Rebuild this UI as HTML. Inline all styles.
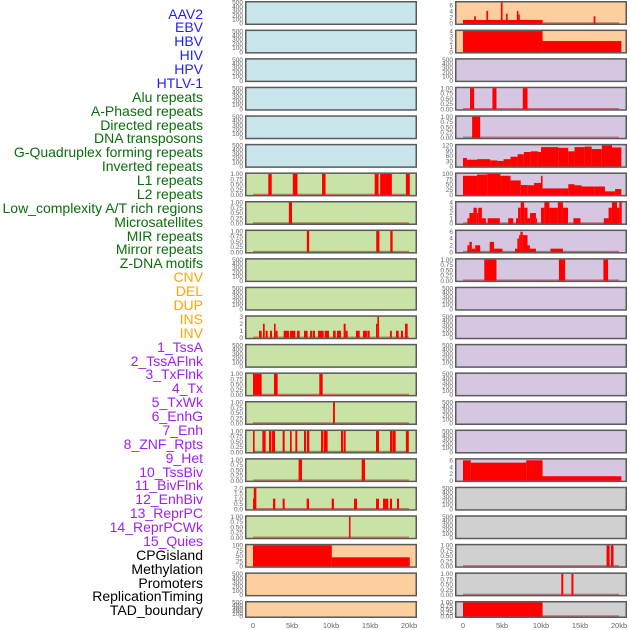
<!DOCTYPE html>
<html><head><meta charset="utf-8">
<style>
html,body{margin:0;padding:0;background:#fff;}
#wrap{position:relative;width:630px;height:630px;overflow:hidden;font-family:"Liberation Sans",sans-serif;}
.lab{position:absolute;right:427px;font-size:14px;line-height:14px;white-space:nowrap;}
svg{position:absolute;left:0;top:0;}
</style></head>
<body>
<div id="wrap">
<div id="labels"></div>
<svg id="chart" width="630" height="630"></svg>
</div>
<script>
// ---- labels ----
const labelNames = ["AAV2","EBV","HBV","HIV","HPV","HTLV-1","Alu repeats","A-Phased repeats","Directed repeats","DNA transposons","G-Quadruplex forming repeats","Inverted repeats","L1 repeats","L2 repeats","Low_complexity A/T rich regions","Microsatellites","MIR repeats","Mirror repeats","Z-DNA motifs","CNV","DEL","DUP","INS","INV","1_TssA","2_TssAFlnk","3_TxFlnk","4_Tx","5_TxWk","6_EnhG","7_Enh","8_ZNF_Rpts","9_Het","10_TssBiv","11_BivFlnk","12_EnhBiv","13_ReprPC","14_ReprPCWk","15_Quies","CPGisland","Methylation","Promoters","ReplicationTiming","TAD_boundary"];
const labelGroupSizes = [6,13,5,15,5];
const labelGroupColors = ["#1f1fff","#0b6e0b","#ffa500","#a020f0","#000000"];

// ---- tick label sets ----
const T500 = ["0","100","200","300","400","500"];
const T1 = ["0.00","0.25","0.50","0.75","1.00"];
const T3 = ["0","1","2","3"];
const T2 = ["0.0","0.5","1.0","1.5","2.0"];
const T100 = ["0","25","50","75","100"];
const T120 = ["0","30","60","90","120"];
const T4 = ["0","1","2","3","4"];
const T6 = ["0","2","4","6"];

// ---- data: [startKb, endKb, value] ----
const L7 = [[1.96,2.4,1],[5.1,5.7,1],[8.85,9.3,1],[15.6,16.1,1],[16.3,17.8,1],[19.6,20.1,1]];
const L8 = [[4.6,5.0,1]];
const L9 = [[6.9,7.2,1],[15.8,16.2,1],[17.6,17.9,1]];
const L12 = [[0.77,1.11,1],[1.28,1.5,2],[1.62,1.88,1],[2.18,2.44,1],[2.69,2.9,2],[2.9,3.16,1],[3.93,4.62,1],[4.74,5.43,1],[5.64,5.98,1],[6.54,7.0,1],[7.31,7.56,1],[7.65,7.95,1],[8.33,9.06,1],[9.19,9.74,1],[10.26,10.6,1],[10.77,11.28,1],[11.62,11.88,2],[11.88,12.14,1],[13.2,13.68,1],[14.1,14.6,1],[14.66,14.96,1],[15.77,15.94,2],[15.94,16.15,3],[17.56,17.8,1],[18.33,18.68,1],[18.97,19.23,1],[19.49,19.83,2]];
const L14 = [[0,1.11,1],[2.69,3.16,1],[8.5,8.93,1]];
const L15 = [[10.26,10.5,1]];
const L16 = [[0,0.21,1],[1.2,1.62,1],[2.05,2.35,1],[2.44,2.82,1],[3.8,4.06,1],[4.74,4.96,1],[5.43,5.68,1],[6.54,6.8,1],[6.92,7.22,1],[8.72,9.02,1],[9.1,9.57,1],[11.28,11.54,1],[11.62,11.88,1],[15.77,16.15,1],[17.56,17.86,1],[17.9,18.29,1],[19.6,19.97,1]];
const L17 = [[5.85,6.28,1],[13.93,14.36,1]];
const L18 = [[0,0.1,1],[0.1,0.43,2],[2.56,2.86,1],[3.8,4.06,1],[6.88,7.18,1],[10.09,10.38,1],[12.95,13.33,1],[15.77,16.15,1],[16.67,17.35,1],[17.56,17.82,1],[18.46,18.72,1]];
const L19 = [[12.3,12.5,1]];
const L20 = [[0,10.1,100],[10.1,20.1,43]];

const R1 = [[0,10.2,1.2],[1.43,1.65,2.4],[3.0,3.22,4.2],[4.85,5.07,7],[5.5,5.72,3.3],[6.9,7.1,4.2],[7.1,7.28,3],[16.75,16.97,2.4]];
const R2 = [[0,10.2,4],[10.2,20.3,2.1]];
const R4 = [[0.9,1.43,1],[3.77,4.29,1],[7.66,8.27,1]];
const R5 = [[1.17,2.2,1]];
const R6 = [[0,0.5,48],[0.5,1.8,38],[1.8,3.5,41],[3.5,4.4,34],[4.4,5.2,31],[5.2,6.1,41],[6.1,7.0,55],[7.0,7.8,69],[7.8,8.7,82],[8.7,9.6,86],[9.6,10.0,82],[10.0,10.9,110],[10.9,12.2,110],[12.2,13.5,106],[13.5,14.3,86],[14.3,15.6,110],[15.6,16.5,113],[16.5,17.8,99],[17.8,19.1,120],[19.1,20.3,108]];
const R7 = [[0,1.8,91],[1.8,3.1,97],[3.1,4.8,100],[4.8,6.1,91],[6.1,7.4,69],[7.4,8.3,47],[8.3,9.1,46],[9.1,10.0,57],[10.0,10.2,91],[10.2,12.6,31],[12.6,13.5,31],[13.5,14.3,51],[14.3,15.2,46],[15.2,16.9,40],[16.9,18.2,40],[18.2,19.5,17],[19.5,20.3,28]];
const R8 = [[0.56,0.82,1],[0.82,1.34,2],[1.34,1.77,3],[1.77,1.95,2],[1.95,2.42,3],[2.42,2.94,1],[3.16,4.72,1],[5.8,6.45,1],[6.8,7.06,1],[7.06,7.4,3],[7.4,7.84,4],[7.84,8.27,3],[8.27,8.6,1],[8.6,9.35,2],[9.35,9.48,1],[10.0,10.43,3],[10.43,11.08,4],[11.08,12.16,3],[12.16,12.81,4],[12.81,13.46,3],[14.16,15.06,1],[18.05,18.66,1],[18.66,19.09,3],[19.09,19.74,4],[19.74,20.04,3],[20.04,20.35,4]];
const R9 = [[0.56,0.82,2],[0.82,1.13,3],[1.13,1.56,1],[1.56,2.2,2],[3.42,3.98,3],[3.98,5.06,1],[6.67,6.97,1],[6.97,7.19,4],[7.19,7.36,5],[7.36,7.66,6],[7.66,8.27,5],[8.27,8.57,2],[8.57,9.35,1],[11.21,12.81,1]];
const R10 = [[2.73,4.29,1],[12.3,13.1,1],[18.0,18.6,1]];
const R17 = [[0,1.0,6],[1.0,8.1,5.3],[8.1,10.2,6],[10.2,20.3,1.3]];
const R20 = [[18.4,18.8,1],[18.96,19.3,1]];
const R21 = [[12.6,12.86,1],[13.9,14.16,1]];
const R22 = [[0,10.2,1]];

const xTickLabels = ["0","5kb","10kb","15kb","20kb"];
const xTickValues = [0,5,10,15,20];

// panel configs: [data, ymax, ticks]
const leftPanels = [
 [null,600,T500],[null,600,T500],[null,600,T500],[null,600,T500],[null,600,T500],[null,600,T500],
 [L7,1,T1],[L8,1,T1],[L9,1,T1],[null,600,T500],[null,600,T500],[L12,3,T3],[null,600,T500],
 [L14,1,T1],[L15,1,T1],[L16,1,T1],[L17,1,T1],[L18,2,T2],[L19,1,T1],[L20,100,T100],
 [null,600,T500],[null,600,T500]];
const rightPanels = [
 [R1,7,T6],[R2,4,T4],[null,600,T500],[R4,1,T1],[R5,1,T1],[R6,120,T120],[R7,100,T100],
 [R8,4,T4],[R9,6.2,T6],[R10,1,T1],[null,600,T500],[null,600,T500],[null,600,T500],
 [null,600,T500],[null,600,T500],[null,600,T500],[R17,6.2,T6],[null,600,T500],
 [null,600,T500],[R20,1,T1],[R21,1,T1],[R22,1,T1]];

const leftColors = Array(22).fill(0).map((_,i)=> i<6?"#c9e5ec": i<19?"#c9e2a5":"#fecf9e");
const rightColors = Array(22).fill(0).map((_,i)=> i<2?"#fecf9e": i<17?"#d5c6e2":"#d0d0d0");

// ---- render labels ----
const labDiv = document.getElementById('labels');
let k = 0;
labelGroupSizes.forEach((n,g)=>{
  for(let j=0;j<n;j++){
    const d = document.createElement('div');
    
    
    d.className='lab';
    d.style.color = labelGroupColors[g];
    d.style.top = (14 + k*13.88 - 7.5) + 'px';
    d.textContent = labelNames[k];
    labDiv.appendChild(d);
    k++;
  }
});

// ---- render panels ----
const svg = document.getElementById('chart');
const NS = 'http://www.w3.org/2000/svg';
function el(tag, attrs, parent){
  const e = document.createElementNS(NS, tag);
  for (const a in attrs) e.setAttribute(a, attrs[a]);
  (parent||svg).appendChild(e);
  return e;
}
function rowTop(i){ return 1 + i*28.57; }
function rowH(i){ return i===21 ? 17 : 24; }

function drawPanel(cfg, i, boxX, x0, color, side){
  const [data, ymax, ticks] = cfg;
  const top = rowTop(i), h = rowH(i), bottom = top + h;
  const g = el('g', {});
  
  
  const box = el('rect', {x:boxX+0.75, y:top+0.75, width:170.5, height:h-1.5, fill:color, stroke:'#5a5a5a', 'stroke-width':1.5}, g);
  
  
  const y0 = bottom - 1.5, y1 = top + 1.5;
  const xs = v => x0 + v/20*156;
  const tickMax = data ? ymax : 500;
  const ymap = v => y0 - v/tickMax*(y0-y1);
  const ys = v => y0 - Math.min(v/ymax,1)*(y0-y1);
  // ticks
  ticks.forEach((t,j)=>{
    const val = data ? parseFloat(t) : parseFloat(t);
    const yy = data ? ys(val) : ymap(val);
    const tx = el('text', {x:boxX-2, y:yy+2.2, 'font-size':6.5, fill:'#666', 'text-anchor':'end', 'font-family':'Liberation Sans, sans-serif'}, g);
    
    
    tx.textContent = t;
  });
  if (data){
    const bl = el('rect', {x:xs(0), y:y0-1.2, width:xs(20)-xs(0), height:1.2, fill:'rgba(170,30,30,0.55)'}, g);
    
    
    data.forEach(d=>{
      const xa = xs(d[0]), xb = xs(d[1]);
      const r = el('rect', {x:xa, y:ys(d[2]), width:Math.max(xb-xa,1), height:y0-ys(d[2]), fill:'#ff0000'}, g);
      
      
    });
  }
}
leftPanels.forEach((c,i)=>drawPanel(c,i,245,253,leftColors[i],'left'));
rightPanels.forEach((c,i)=>drawPanel(c,i,455,463,rightColors[i],'right'));

// x axes
[[253,'left'],[463,'right']].forEach(([x0,side])=>{
  xTickValues.forEach((v,j)=>{
    const t = el('text', {x:x0+v/20*156, y:628, 'font-size':7.5, fill:'#666', 'text-anchor':'middle', 'font-family':'Liberation Sans, sans-serif'});
    
    
    t.textContent = xTickLabels[j];
  });
});
</script>
</body></html>
